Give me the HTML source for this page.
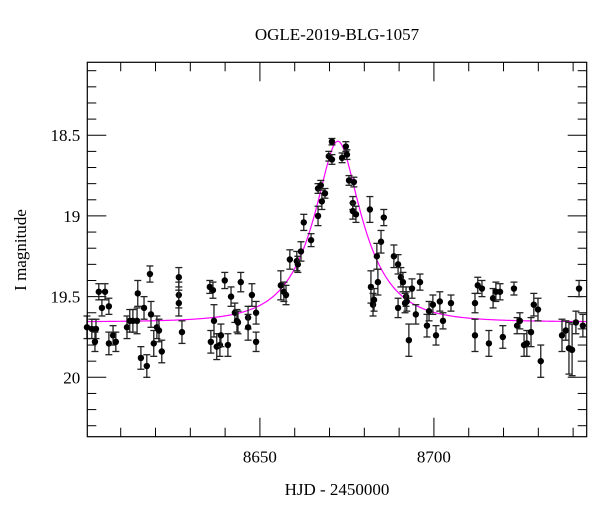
<!DOCTYPE html>
<html><head><meta charset="utf-8"><style>
html,body{margin:0;padding:0;background:#fff;}
svg{display:block;font-family:"Liberation Serif",serif;}
</style></head><body>
<svg id="chart" width="600" height="512" viewBox="0 0 600 512" xmlns="http://www.w3.org/2000/svg">
<text x="337" y="40" font-size="17" text-anchor="middle">OGLE-2019-BLG-1057</text>
<text x="337" y="495" font-size="17" text-anchor="middle">HJD - 2450000</text>
<text x="0" y="0" font-size="17" text-anchor="middle" transform="translate(26,250) rotate(-90)">I magnitude</text>
<g id="ticks"></g>
<g id="model"></g>
<g id="points"></g>
<rect x="87.3" y="62.3" width="499.4" height="374.4" fill="none" stroke="#000" stroke-width="1.2"/>
</svg>
<script>
const times = [8600.3,8601.7,8602.9,8602.6,8603.7,8604.6,8605.5,8606.6,8606.6,8607.8,8608.6,8611.8,8612.6,8613.5,8614.7,8614.9,8616.7,8615.8,8617.5,8618.7,8618.4,8619.5,8620.4,8621.0,8621.8,8626.7,8626.7,8626.7,8627.6,
8635.6,8636.5,8636.8,8635.9,8637.6,8638.5,8638.8,8640.8,8639.9,8644.5,8641.7,8642.8,8643.4,8643.7,8646.6,8647.7,8648.9,8646.6,8648.9,
8656.0,8656.9,8657.5,8658.6,8660.6,8660.9,8661.8,8662.6,8664.7,8666.7,8666.7,8667.5,8667.8,8668.7,8669.8,8670.7,8670.7,8673.6,8674.7,8675.0,8675.6,8677.0,8676.7,8676.7,8677.6,
8681.6,8685.6,8684.8,8683.6,8681.9,8682.5,8682.8,8683.9,8688.5,8689.7,8690.5,8691.1,8693.7,8696.0,8692.0,8692.2,8689.7,8691.7,8692.8,8694.8,8698.0,8698.6,8699.7,8700.6,8701.7,8702.6,8704.9,
8711.8,8711.8,8712.6,8713.8,8715.8,8717.0,8717.8,8719.0,8719.8,8723.0,8723.9,8724.7,8725.9,8726.7,8727.9,8728.7,8729.9,8730.7,8736.8,8737.9,8738.8,8739.7,8740.8,8741.7,8742.8];
const mags = [19.69,19.70,19.70,19.78,19.47,19.57,19.47,19.56,19.79,19.74,19.78,19.69,19.65,19.65,19.65,19.48,19.57,19.88,19.93,19.61,19.36,19.79,19.69,19.71,19.84,19.38,19.49,19.54,19.72,
19.44,19.46,19.65,19.78,19.81,19.80,19.74,19.80,19.40,19.41,19.50,19.60,19.65,19.66,19.63,19.49,19.60,19.69,19.78,
19.43,19.47,19.49,19.27,19.28,19.30,19.22,19.04,19.15,19.00,18.83,18.81,18.91,18.86,18.63,18.65,18.54,18.64,18.57,18.62,18.78,18.79,18.92,18.97,18.99,
18.96,19.01,19.16,19.25,19.44,19.55,19.52,19.41,19.25,19.30,19.38,19.41,19.45,19.41,19.50,19.53,19.57,19.54,19.77,19.61,19.68,19.59,19.55,19.74,19.53,19.65,19.54,
19.54,19.74,19.43,19.45,19.79,19.51,19.47,19.47,19.75,19.45,19.68,19.65,19.80,19.79,19.72,19.55,19.58,19.90,19.74,19.71,19.82,19.83,19.66,19.45,19.68];
const errs = [0.07,0.06,0.06,0.06,0.05,0.05,0.05,0.05,0.07,0.06,0.06,0.07,0.07,0.07,0.08,0.08,0.07,0.07,0.07,0.08,0.05,0.08,0.07,0.07,0.07,0.06,0.08,0.08,0.07,
0.04,0.05,0.10,0.07,0.08,0.07,0.07,0.07,0.05,0.06,0.06,0.06,0.07,0.07,0.07,0.07,0.07,0.08,0.06,
0.09,0.06,0.06,0.06,0.06,0.05,0.06,0.05,0.04,0.06,0.03,0.03,0.05,0.03,0.03,0.03,0.02,0.03,0.03,0.03,0.03,0.03,0.04,0.05,0.05,
0.08,0.05,0.07,0.08,0.10,0.07,0.07,0.08,0.07,0.06,0.06,0.06,0.06,0.05,0.06,0.06,0.06,0.06,0.10,0.06,0.07,0.06,0.06,0.06,0.06,0.05,0.05,
0.06,0.10,0.05,0.05,0.08,0.06,0.06,0.05,0.07,0.04,0.05,0.05,0.07,0.08,0.09,0.07,0.07,0.10,0.10,0.06,0.16,0.16,0.07,0.05,0.07];
const xTickLabels = [8650, 8700];
const yTickLabels = [18.5, 19, 19.5, 20];
const modelT0 = 8672.4, modelTE = 13.7, modelU0 = 0.375, modelBase = 19.657;

const X0 = 87.3, X1 = 586.7, Y0 = 62.3, Y1 = 436.7;
const tMin = 8600.4, tMax = 8743.9, mTop = 18.048, mBot = 20.368;
function xs(t){ return X0 + (t - tMin) / (tMax - tMin) * (X1 - X0); }
function ys(m){ return Y0 + (m - mTop) / (mBot - mTop) * (Y1 - Y0); }
const NS = "http://www.w3.org/2000/svg";
function mk(tag, attrs, parent){ const e = document.createElementNS(NS, tag); for (const k in attrs) e.setAttribute(k, attrs[k]); parent.appendChild(e); return e; }

const svg = document.getElementById('chart');
const tg = document.getElementById('ticks');
// x ticks
for (let t = 8610; t < tMax; t += 10) {
  const major = (t % 50 === 0);
  const L = major ? 19 : 9;
  const x = xs(t);
  const a = mk('line', {x1:x, x2:x, y1:Y1, y2:Y1-L, stroke:'#000', 'stroke-width':1}, tg);
  
  
  const b = mk('line', {x1:x, x2:x, y1:Y0, y2:Y0+L, stroke:'#000', 'stroke-width':1}, tg);
  
  
}
xTickLabels.forEach(v => {
  const tx = mk('text', {x:xs(v), y:Y1+26, 'font-size':17, 'text-anchor':'middle'}, svg);
  
  
  tx.textContent = v;
});
// y ticks
for (let i = 1; i <= 23; i++) {
  const m = 18.0 + i * 0.1;
  if (m < mTop || m > mBot) continue;
  const major = (i % 5 === 0);
  const L = major ? 19 : 9;
  const y = ys(m);
  const a = mk('line', {x1:X0, x2:X0+L, y1:y, y2:y, stroke:'#000', 'stroke-width':1}, tg);
  
  
  const b = mk('line', {x1:X1, x2:X1-L, y1:y, y2:y, stroke:'#000', 'stroke-width':1}, tg);
  
  
}
yTickLabels.forEach(v => {
  const tx = mk('text', {x:X0-7, y:ys(v)+6, 'font-size':17, 'text-anchor':'end'}, svg);
  
  
  tx.textContent = v;
});
// model curve
let d = '';
for (let px = X0; px <= X1; px += 1) {
  const t = tMin + (px - X0) / (X1 - X0) * (tMax - tMin);
  const tau = (t - modelT0) / modelTE;
  const u = Math.sqrt(modelU0*modelU0 + tau*tau);
  const A = (u*u + 2) / (u * Math.sqrt(u*u + 4));
  const m = modelBase - 2.5 * Math.log10(A);
  d += (d ? 'L' : 'M') + px.toFixed(1) + ',' + ys(m).toFixed(2);
}
const mp = mk('path', {d:d, fill:'none', stroke:'#ff00ff', 'stroke-width':1.2}, document.getElementById('model'));


// points
const pg = document.getElementById('points');
times.forEach((t, i) => {
  const x = xs(t), y = ys(mags[i]), y1 = ys(mags[i] - errs[i]), y2 = ys(mags[i] + errs[i]);
  const g = mk('g', {}, pg);
  
  
  mk('line', {x1:x, x2:x, y1:y1, y2:y2, stroke:'#222', 'stroke-width':1.3}, g);
  mk('line', {x1:x-3.5, x2:x+3.5, y1:y1, y2:y1, stroke:'#222', 'stroke-width':1.3}, g);
  mk('line', {x1:x-3.5, x2:x+3.5, y1:y2, y2:y2, stroke:'#222', 'stroke-width':1.3}, g);
  mk('circle', {cx:x, cy:y, r:3.2, fill:'#000'}, g);
});
</script>
</body></html>
